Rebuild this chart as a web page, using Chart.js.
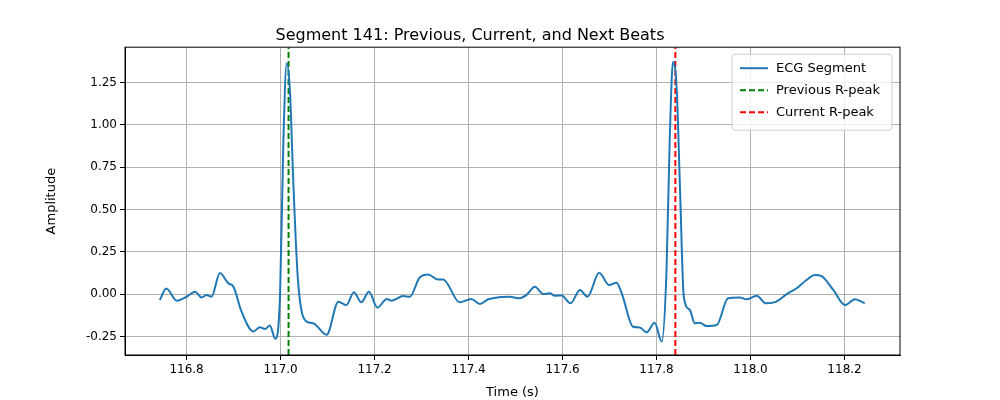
<!DOCTYPE html>
<html>
<head>
<meta charset="utf-8">
<script src="https://cdn.jsdelivr.net/npm/chart.js@4/dist/chart.umd.min.js"></script>
<style>
  body { margin: 0; background: #fff; }
  #wrap { width: 1000px; height: 400px; }
</style>
</head>
<body>
<div id="wrap"><canvas id="ecgChart"></canvas></div>
<script>
// ECG samples (time in s, amplitude)
var times = [116.743,116.757,116.779,116.800,116.818,116.832,116.843,116.853,116.871,116.889,116.899,116.917,116.942,116.956,116.967,116.977,116.989,116.999,117.006,117.013,117.020,117.027,117.037,117.055,117.069,117.098,117.123,117.140,117.156,117.172,117.188,117.206,117.226,117.236,117.261,117.275,117.296,117.314,117.335,117.346,117.381,117.406,117.424,117.442,117.467,117.488,117.506,117.523,117.541,117.559,117.573,117.584,117.598,117.617,117.637,117.653,117.678,117.699,117.715,117.726,117.750,117.764,117.779,117.796,117.811,117.821,117.828,117.835,117.843,117.850,117.858,117.871,117.881,117.892,117.906,117.928,117.952,117.977,117.991,118.013,118.033,118.055,118.077,118.098,118.119,118.137,118.151,118.176,118.201,118.222,118.243];
var amplitude = [-0.035,0.033,-0.039,-0.016,0.014,-0.020,-0.006,-0.016,0.125,0.063,0.047,-0.104,-0.221,-0.196,-0.207,-0.186,-0.264,0.004,0.904,1.363,1.197,0.669,0.082,-0.162,-0.172,-0.241,-0.045,-0.065,0.010,-0.049,0.014,-0.080,-0.029,-0.039,-0.012,-0.016,0.098,0.116,0.086,0.086,-0.049,-0.029,-0.059,-0.031,-0.018,-0.016,-0.025,-0.006,0.043,0.000,0.004,-0.010,-0.008,-0.055,0.024,-0.016,0.126,0.053,0.067,0.004,-0.193,-0.197,-0.226,-0.169,-0.281,0.122,0.909,1.371,1.204,0.614,-0.016,-0.094,-0.173,-0.169,-0.189,-0.183,-0.025,-0.020,-0.031,-0.010,-0.055,-0.045,0.000,0.034,0.083,0.112,0.106,0.024,-0.065,-0.031,-0.055];
var previousPeak = 117.017;
var currentPeak = 117.840;
var xTicks = [116.8, 117.0, 117.2, 117.4, 117.6, 117.8, 118.0, 118.2];
var yTicks = [-0.25, 0, 0.25, 0.5, 0.75, 1.0, 1.25];

var yMin = -0.36, yMax = 1.458;

var ecgPoints = times.map(function(t, i) { return { x: t, y: amplitude[i] }; });

// legend inside the plot (top right) plus the full axes box
var insideLegend = {
    id: 'insideLegend',
    afterDraw: function(chart) {
        var ctx = chart.ctx, area = chart.chartArea;
        ctx.save();
        ctx.strokeStyle = '#000';
        ctx.lineWidth = 1;
        ctx.strokeRect(area.left, area.top, area.right - area.left, area.bottom - area.top);

        var items = [
            { label: 'ECG Segment', color: '#1f77b4', dash: [] },
            { label: 'Previous R-peak', color: 'green', dash: [6, 3] },
            { label: 'Current R-peak', color: 'red', dash: [6, 3] }
        ];
        var w = 160, h = 76, x0 = area.right - w - 8, y0 = area.top + 7;
        ctx.fillStyle = 'rgba(255,255,255,0.8)';
        ctx.strokeStyle = '#cccccc';
        ctx.beginPath();
        ctx.roundRect(x0, y0, w, h, 3);
        ctx.fill();
        ctx.stroke();
        ctx.font = '13px "DejaVu Sans"';
        ctx.textBaseline = 'middle';
        items.forEach(function(it, i) {
            var yy = y0 + 14 + i * 22;
            ctx.strokeStyle = it.color;
            ctx.lineWidth = 2;
            ctx.setLineDash(it.dash);
            ctx.beginPath();
            ctx.moveTo(x0 + 8, yy);
            ctx.lineTo(x0 + 36, yy);
            ctx.stroke();
            ctx.setLineDash([]);
            ctx.fillStyle = '#000';
            ctx.fillText(it.label, x0 + 44, yy);
        });
        ctx.restore();
    }
};

var ctx = document.getElementById('ecgChart').getContext('2d');
var ecgChart = new Chart(ctx, {
    type: 'line',
    data: {
        datasets: [{
            label: 'ECG Segment',
            data: ecgPoints,
            borderColor: '#1f77b4',
            borderWidth: 2,
            pointRadius: 0,
            cubicInterpolationMode: 'monotone',
            fill: false
        }, {
            label: 'Previous R-peak',
            data: [{ x: previousPeak, y: yMin }, { x: previousPeak, y: yMax }],
            borderColor: 'green',
            borderWidth: 2,
            borderDash: [6, 3],
            pointRadius: 0
        }, {
            label: 'Current R-peak',
            data: [{ x: currentPeak, y: yMin }, { x: currentPeak, y: yMax }],
            borderColor: 'red',
            borderWidth: 2,
            borderDash: [6, 3],
            pointRadius: 0
        }]
    },
    options: {
        responsive: true,
        maintainAspectRatio: false,
        animation: false,
        layout: { padding: { left: 40, right: 100, top: 8, bottom: 0 } },
        plugins: {
            legend: { display: false },
            tooltip: { enabled: false },
            title: {
                display: true,
                text: 'Segment 141: Previous, Current, and Next Beats',
                color: '#000',
                font: { family: 'DejaVu Sans', size: 16, weight: 'normal' },
                padding: { top: 18, bottom: 2 }
            }
        },
        scales: {
            x: {
                type: 'linear',
                min: 116.669,
                max: 118.318,
                afterBuildTicks: function(axis) {
                    axis.ticks = xTicks.map(function(v) { return { value: v }; });
                },
                ticks: {
                    color: '#000',
                    font: { family: 'DejaVu Sans', size: 12 },
                    callback: function(v) { return v.toFixed(1); },
                    maxRotation: 0
                },
                grid: { color: '#b0b0b0', tickColor: '#000', tickLength: 5 },
                border: { color: '#000' },
                title: { display: true, text: 'Time (s)', color: '#000', font: { family: 'DejaVu Sans', size: 13 }, padding: { top: 4, bottom: 0 } }
            },
            y: {
                min: yMin,
                max: yMax,
                afterBuildTicks: function(axis) {
                    axis.ticks = yTicks.map(function(v) { return { value: v }; });
                },
                afterFit: function(axis) { axis.width = 85; },
                ticks: {
                    color: '#000',
                    font: { family: 'DejaVu Sans', size: 12 },
                    callback: function(v) { return v.toFixed(2); }
                },
                grid: { color: '#b0b0b0', tickColor: '#000', tickLength: 5 },
                border: { color: '#000' },
                title: { display: true, text: 'Amplitude', color: '#000', font: { family: 'DejaVu Sans', size: 13 } }
            }
        }
    },
    plugins: [insideLegend]
});
</script>
</body>
</html>
